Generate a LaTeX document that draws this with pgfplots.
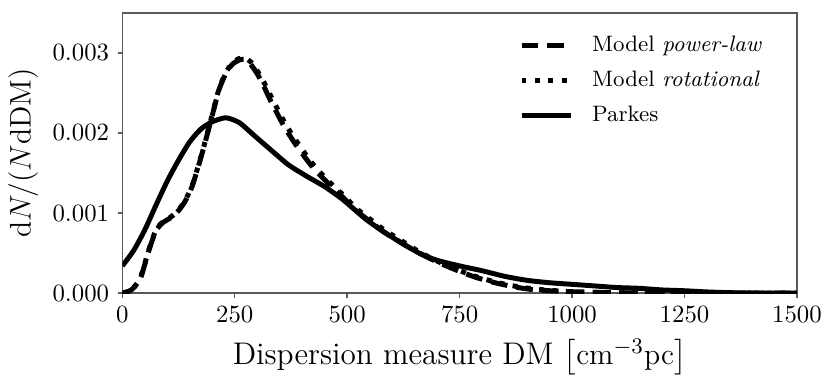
\documentclass[border=0pt]{standalone}
\usepackage{pgfplots}
\pgfplotsset{compat=1.18}
\usepackage{amsmath}

\pgfplotstableread{
dm y
0 0.00034
25 0.00053
50 0.00079
75 0.00110
100 0.00140
125 0.00166
150 0.00189
175 0.00205
200 0.00214
230 0.00219
260 0.00213
293 0.00197
330 0.00179
370 0.00160
410 0.00146
450 0.00133
490 0.00117
540 0.00093
580 0.00077
620 0.00063
660 0.00050
700 0.00041
750 0.00034
800 0.00028
850 0.00021
900 0.00016
950 0.00013
1000 0.00011
1050 0.00009
1100 0.00007
1150 0.00006
1200 0.00004
1250 0.00003
1300 0.000015
1350 0.000006
1400 0.000002
1500 0
}\parkes

\pgfplotstableread{
dm y
0 0.0
20 0.00004
40 0.00018
60 0.00055
75 0.00078
90 0.00088
110 0.00095
125 0.00103
140 0.00115
155 0.00133
170 0.00160
185 0.00190
200 0.00222
215 0.00254
230 0.00274
245 0.00286
260 0.00291
270 0.00292
285 0.00286
300 0.00274
315 0.00258
330 0.00240
360 0.00208
390 0.00182
425 0.00156
460 0.00136
490 0.00120
520 0.00103
550 0.00090
580 0.00077
620 0.00063
660 0.00050
700 0.00039
733 0.00031
760 0.00025
790 0.00019
836 0.00012
880 0.00007
920 0.00004
990 0.00002
1050 0.00001
1150 0.000003
1500 0
}\powerlaw

\pgfplotstableread{
dm y
0 0.0
20 0.00004
40 0.00019
60 0.00056
75 0.00079
90 0.00089
110 0.00096
125 0.00104
140 0.00116
155 0.00134
170 0.00161
185 0.00191
200 0.00223
215 0.00255
230 0.00275
245 0.00288
260 0.00293
272 0.00294
287 0.00288
302 0.00276
317 0.00261
333 0.00243
363 0.00211
393 0.00185
428 0.00158
462 0.00138
492 0.00122
522 0.00105
552 0.00092
582 0.00079
622 0.00065
662 0.00051
700 0.00040
733 0.00032
760 0.00026
790 0.00020
836 0.00013
880 0.00008
920 0.00005
990 0.00002
1050 0.00001
1150 0.000003
1500 0
}\rotational

\begin{document}
\begin{tikzpicture}
\begin{axis}[
  name=main,
  scale only axis,
  width=272pt, height=113pt,
  xmin=0, xmax=1500,
  ymin=0, ymax=0.0035,
  xtick={0,250,...,1500},
  ytick={0,0.001,0.002,0.003},
  scaled y ticks=false,
  yticklabel style={/pgf/number format/.cd, fixed, fixed zerofill, precision=3},
  xticklabel style={/pgf/number format/.cd, fixed, 1000 sep={}},
  tick label style={font=\fontsize{10.3}{12}\selectfont},
  label style={font=\fontsize{12.6}{14}\selectfont},
  tick align=outside,
  xtick pos=bottom, ytick pos=left,
  major tick length=1.8pt,
  axis line style={black!65, line width=0.6pt},
  every tick/.style={black!65, line width=0.6pt},
  xlabel={Dispersion measure DM $\big[\mathrm{cm^{-3}pc}\big]$},
  ylabel={$\mathrm{d}N/(N\mathrm{dDM})$},
  xlabel style={yshift=0pt},
  ylabel style={yshift=-1pt},
  legend style={draw=none, fill=none, at={(1,1)}, anchor=north east,
    xshift=-9pt, yshift=-5pt,
    font=\fontsize{9}{10.5}\selectfont, row sep=2.4pt},
  legend cell align=left,
  legend image code/.code={\draw[#1] (0pt,0pt) -- (20pt,0pt); \path (25.5pt,0pt);},
]
\addplot[black, line width=2pt, dash pattern=on 6.8pt off 3.6pt, smooth, tension=0.4] table[x=dm,y=y] {\powerlaw};
\addlegendentry{Model \textit{power-law}}
\addplot[black, line width=2pt, dash pattern=on 2pt off 3.4pt, smooth, tension=0.4] table[x=dm,y=y] {\rotational};
\addlegendentry{Model \textit{rotational}}
\addplot[black, line width=2pt, smooth, tension=0.4] table[x=dm,y=y] {\parkes};
\addlegendentry{Parkes}
\end{axis}
\path ([yshift=5.2pt]main.north) -- ([yshift=5.2pt]main.north);
\end{tikzpicture}
\end{document}
